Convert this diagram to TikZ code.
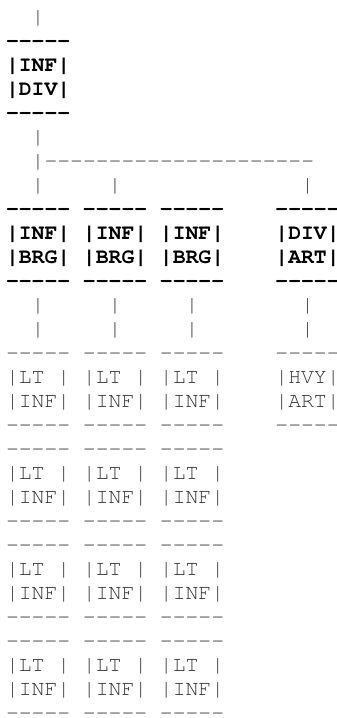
\documentclass[tikz,border=0pt]{standalone}
\usepackage{fontspec}
\setmonofont{TeX Gyre Cursor}
\definecolor{asciigray}{HTML}{333333}
\begin{document}
\begin{tikzpicture}[x=12.83pt, y=-24pt,
    lbl/.style={font=\ttfamily\fontsize{21.4}{24}\selectfont, text=asciigray},
    bx/.style={lbl, anchor=north west, yshift=16.8pt, align=left},
    boldbx/.style={bx, font=\ttfamily\bfseries\fontsize{21.4}{24}\selectfont, text=black},
    lnk/.style={lbl, anchor=base west}]
    \tikzstyle{every node}+=[inner sep=0pt, outer sep=0pt]
    \useasboundingbox (-6pt,23pt) rectangle (331pt,-695pt);
    % top of the tree
    \node [lnk] (up) at (2,0) {|};
    \node [boldbx] (infdiv) at (0,1) {\strut-----\\\strut|INF|\\\strut|DIV|\\\strut-----};
    \node [lnk] (down) at (2,5) {|};
    \node [lnk] (bus) at (2,6) {|---------------------};
    \node [lnk] (dropA) at (2,7) {|};
    \node [lnk] (dropB) at (8,7) {|};
    \node [lnk] (dropD) at (23,7) {|};
    % second level
    \node [boldbx] (brgA) at (0,8) {\strut-----\\\strut|INF|\\\strut|BRG|\\\strut-----};
    \node [boldbx] (brgB) at (6,8) {\strut-----\\\strut|INF|\\\strut|BRG|\\\strut-----};
    \node [boldbx] (brgC) at (12,8) {\strut-----\\\strut|INF|\\\strut|BRG|\\\strut-----};
    \node [boldbx] (divart) at (21,8) {\strut-----\\\strut|DIV|\\\strut|ART|\\\strut-----};
    \node [lnk] (stemA) at (2,12) {|};
    \node [lnk] (stemB) at (8,12) {|};
    \node [lnk] (stemC) at (14,12) {|};
    \node [lnk] (stemD) at (23,12) {|};
    \node [lnk] (stemAA) at (2,13) {|};
    \node [lnk] (stemBB) at (8,13) {|};
    \node [lnk] (stemCC) at (14,13) {|};
    \node [lnk] (stemDD) at (23,13) {|};
    % third level
    \node [bx] (ltA1) at (0,14) {\strut-----\\\strut|LT |\\\strut|INF|\\\strut-----};
    \node [bx] (ltB1) at (6,14) {\strut-----\\\strut|LT |\\\strut|INF|\\\strut-----};
    \node [bx] (ltC1) at (12,14) {\strut-----\\\strut|LT |\\\strut|INF|\\\strut-----};
    \node [bx] (hvyart) at (21,14) {\strut-----\\\strut|HVY|\\\strut|ART|\\\strut-----};
    \node [bx] (ltA2) at (0,18) {\strut-----\\\strut|LT |\\\strut|INF|\\\strut-----};
    \node [bx] (ltB2) at (6,18) {\strut-----\\\strut|LT |\\\strut|INF|\\\strut-----};
    \node [bx] (ltC2) at (12,18) {\strut-----\\\strut|LT |\\\strut|INF|\\\strut-----};
    \node [bx] (ltA3) at (0,22) {\strut-----\\\strut|LT |\\\strut|INF|\\\strut-----};
    \node [bx] (ltB3) at (6,22) {\strut-----\\\strut|LT |\\\strut|INF|\\\strut-----};
    \node [bx] (ltC3) at (12,22) {\strut-----\\\strut|LT |\\\strut|INF|\\\strut-----};
    \node [bx] (ltA4) at (0,26) {\strut-----\\\strut|LT |\\\strut|INF|\\\strut-----};
    \node [bx] (ltB4) at (6,26) {\strut-----\\\strut|LT |\\\strut|INF|\\\strut-----};
    \node [bx] (ltC4) at (12,26) {\strut-----\\\strut|LT |\\\strut|INF|\\\strut-----};
\end{tikzpicture}
\end{document}
